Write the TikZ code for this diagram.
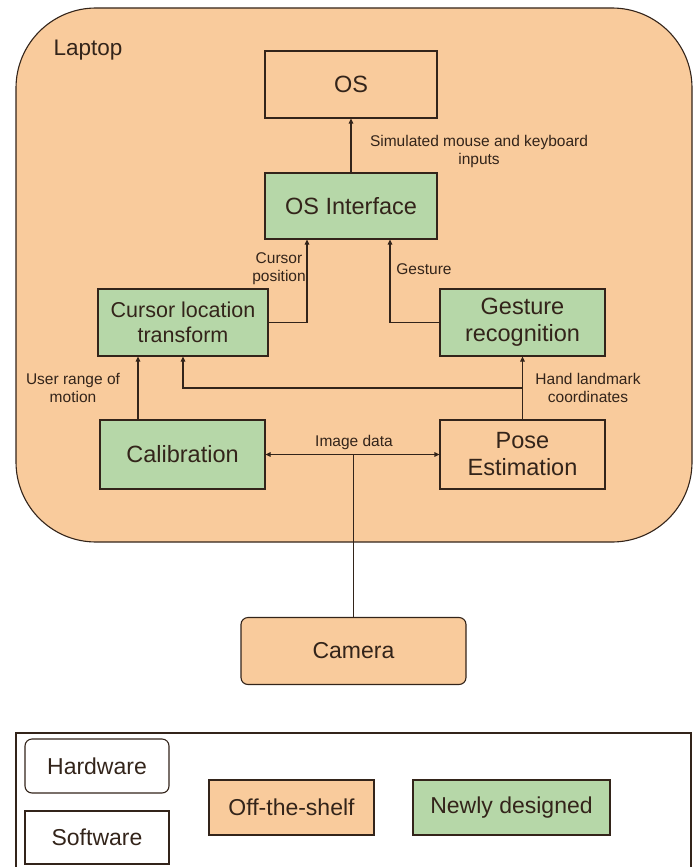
\documentclass[tikz,border=0pt]{standalone}
\usepackage{fontspec}
\setmainfont{Liberation Sans}
\usepackage{xcolor}
\usepackage{tikz}
\usetikzlibrary{arrows.meta}

\definecolor{shelf}{HTML}{F9CB9C}
\definecolor{newly}{HTML}{B6D7A8}
\definecolor{ink}{HTML}{33241A}

\begin{document}
\begin{tikzpicture}[
  x=1pt,y=-1pt,
  line width=1.1pt,draw=ink,text=ink,
  box/.style={draw=ink,align=center,inner sep=2pt,font=\fontsize{23.5}{27}\selectfont},
  hwbox/.style={box,rounded corners=7pt},
  made/.style={box,fill=newly},
  bought/.style={box,fill=shelf},
  keytext/.style={font=\fontsize{23}{27}\selectfont},
  tag/.style={align=center,inner sep=1pt,font=\fontsize{15.5}{18}\selectfont},
  flow/.style={-{Triangle[length=5pt,width=4.5pt]}},
  both/.style={{Triangle[length=5pt,width=4.5pt]}-{Triangle[length=5pt,width=4.5pt]}}
]
\useasboundingbox (0,0) rectangle (696,867);

% laptop outline
\draw[fill=shelf,rounded corners=80pt] (16,8) rectangle (692,542);
\node[anchor=west,inner sep=0pt,font=\fontsize{22.5}{26}\selectfont] (laptop) at (53,50) {Laptop};

\node[box,minimum width=172pt,minimum height=67pt] (os) at (351,84.5) {OS};
\node[made,minimum width=172pt,minimum height=66pt] (osif) at (351,206) {OS Interface};
\node[made,minimum width=170pt,minimum height=67pt,font=\fontsize{21.5}{24.5}\selectfont] (cursor) at (183,322.5) {Cursor location\\transform};
\node[made,minimum width=165pt,minimum height=67pt] (gesture) at (522.5,322.5) {Gesture\\recognition};
\node[made,minimum width=165pt,minimum height=69pt] (calib) at (182.5,454.5) {Calibration};
\node[box,minimum width=165pt,minimum height=69pt] (pose) at (522.5,454.5) {Pose\\Estimation};
\node[hwbox,fill=shelf,minimum width=225pt,minimum height=67pt,keytext] (camera) at (353.5,651) {Camera};

\coordinate (split) at (522.5,388);

\draw[flow] (osif.north) -- (os.south);
\draw[flow] (cursor.east) -| ([xshift=-44pt]osif.south);
\draw[flow] (gesture.west) -| ([xshift=39pt]osif.south);
\draw[flow] ([xshift=-44.5pt]calib.north) -- ([xshift=-44.5pt]calib.north |- cursor.south);
\draw[flow] (pose.north) -- (gesture.south);
\draw[flow] (split) -| (cursor.south);
\draw[both] (calib.east) -- (pose.west);
\draw (camera.north) -- (camera.north |- calib.east);

\node[tag] (simtag) at (479,151) {Simulated mouse and keyboard\\inputs};
\node[tag] (postag) at (279,268.5) {Cursor\\position};
\node[tag] (gesttag) at (424,269) {Gesture};
\node[tag] (rangetag) at (73,388) {User range of\\motion};
\node[tag] (handtag) at (588,388) {Hand landmark\\coordinates};
\node[tag] (imgtag) at (354,442) {Image data};

% legend, cut off at the bottom
\draw (16,867) -- (16,733) -- (691,733) -- (691,867);
\node[hwbox,minimum width=144pt,minimum height=54pt,keytext] (hw) at (97,766) {Hardware};
\node[box,minimum width=144pt,minimum height=53pt,keytext] (sw) at (97,837.5) {Software};
\node[bought,minimum width=165pt,minimum height=55pt,keytext] (ots) at (291.5,807.5) {Off-the-shelf};
\node[made,minimum width=197pt,minimum height=55pt,keytext] (newd) at (511.5,807.5) {Newly designed};
\end{tikzpicture}
\end{document}
